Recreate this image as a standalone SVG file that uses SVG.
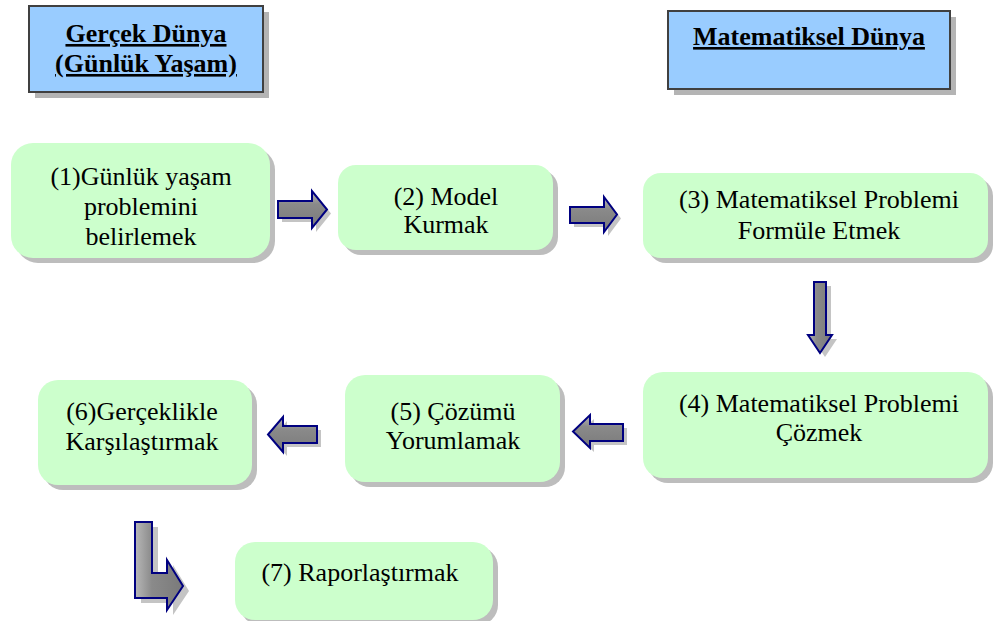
<svg xmlns="http://www.w3.org/2000/svg" width="993" height="621" viewBox="0 0 993 621">
  <style>
    .hdr { fill: #99CCFF; stroke: #404040; stroke-width: 2; }
    .hdr-sh { fill: #b4b4b4; }
    .hdr-t { font-family: "Times New Roman", Times, Tinos, "Liberation Serif", "Nimbus Roman", "Nimbus Roman No9 L", "Noto Serif", FreeSerif, "DejaVu Serif", Georgia, serif; font-weight: bold; font-size: 26px; text-decoration: underline; fill: #000; text-anchor: middle; }
    .node { fill: #CCFFCC; }
    .node-sh { fill: #bdbdbd; }
    .t { font-family: "Times New Roman", Times, Tinos, "Liberation Serif", "Nimbus Roman", "Nimbus Roman No9 L", "Noto Serif", FreeSerif, "DejaVu Serif", Georgia, serif; font-size: 26px; fill: #000; text-anchor: middle; }
    .arr { stroke: #000080; stroke-width: 2; stroke-linejoin: miter; }
    .arr-sh { fill: #c4c4c4; }
  </style>
  <defs>
    <linearGradient id="gH" x1="0" y1="0" x2="0" y2="1">
      <stop offset="0" stop-color="#b8b8b8"/>
      <stop offset="0.35" stop-color="#8a8a8a"/>
      <stop offset="1" stop-color="#7a7a7a"/>
    </linearGradient>
    <linearGradient id="gV" x1="0" y1="0" x2="1" y2="0">
      <stop offset="0" stop-color="#b8b8b8"/>
      <stop offset="0.35" stop-color="#8a8a8a"/>
      <stop offset="1" stop-color="#7a7a7a"/>
    </linearGradient>
  </defs>

  <rect width="993" height="621" fill="#ffffff"/>

  <!-- column headers -->
  <g id="hdr-real">
    <rect class="hdr-sh" x="35" y="12" width="234" height="86"/>
    <rect class="hdr" x="29" y="6" width="234" height="86"/>
    <text class="hdr-t" x="146" y="42">Gerçek Dünya</text>
    <text class="hdr-t" x="146" y="72">(Günlük Yaşam)</text>
  </g>
  <g id="hdr-math">
    <rect class="hdr-sh" x="674" y="17" width="282" height="78"/>
    <rect class="hdr" x="668" y="11" width="282" height="78"/>
    <text class="hdr-t" x="809" y="45">Matematiksel Dünya</text>
  </g>

  <!-- process steps -->
  <g id="n1">
    <rect class="node-sh" x="16" y="148" width="259" height="115" rx="22"/>
    <rect class="node" x="11" y="143" width="259" height="115" rx="22"/>
    <text class="t" x="141" y="185">(1)Günlük yaşam</text>
    <text class="t" x="141" y="215">problemini</text>
    <text class="t" x="141" y="245">belirlemek</text>
  </g>
  <g id="n2">
    <rect class="node-sh" x="343" y="170" width="215" height="85" rx="18"/>
    <rect class="node" x="338" y="165" width="215" height="85" rx="18"/>
    <text class="t" x="446" y="205">(2) Model</text>
    <text class="t" x="446" y="233">Kurmak</text>
  </g>
  <g id="n3">
    <rect class="node-sh" x="648" y="178" width="345" height="85" rx="18"/>
    <rect class="node" x="643" y="173" width="345" height="85" rx="18"/>
    <text class="t" x="819" y="208">(3) Matematiksel Problemi</text>
    <text class="t" x="819" y="239">Formüle Etmek</text>
  </g>
  <g id="n4">
    <rect class="node-sh" x="648" y="377" width="345" height="106" rx="20"/>
    <rect class="node" x="643" y="372" width="345" height="106" rx="20"/>
    <text class="t" x="819" y="412">(4) Matematiksel Problemi</text>
    <text class="t" x="819" y="441">Çözmek</text>
  </g>
  <g id="n5">
    <rect class="node-sh" x="350" y="380" width="215" height="107" rx="20"/>
    <rect class="node" x="345" y="375" width="215" height="107" rx="20"/>
    <text class="t" x="453" y="420">(5) Çözümü</text>
    <text class="t" x="453" y="449">Yorumlamak</text>
  </g>
  <g id="n6">
    <rect class="node-sh" x="43" y="385" width="214" height="105" rx="20"/>
    <rect class="node" x="38" y="380" width="214" height="105" rx="20"/>
    <text class="t" x="142" y="420">(6)Gerçeklikle</text>
    <text class="t" x="142" y="450">Karşılaştırmak</text>
  </g>
  <g id="n7">
    <rect class="node-sh" x="240" y="547" width="258" height="78" rx="20"/>
    <rect class="node" x="235" y="542" width="258" height="78" rx="20"/>
    <text class="t" x="360" y="581">(7) Raporlaştırmak</text>
  </g>

  <!-- block arrows between steps -->
  <g id="connectors">
    <g id="a12">
      <path class="arr-sh" transform="translate(4,4)" d="M278,201 H312 V191 L327,209.5 L312,228 V218 H278 Z"/>
      <path class="arr" fill="url(#gH)" d="M278,201 H312 V191 L327,209.5 L312,228 V218 H278 Z"/>
    </g>
    <g id="a23">
      <path class="arr-sh" transform="translate(4,4)" d="M570,207 H604 V197 L617,214.5 L604,232 V223 H570 Z"/>
      <path class="arr" fill="url(#gH)" d="M570,207 H604 V197 L617,214.5 L604,232 V223 H570 Z"/>
    </g>
    <g id="a34">
      <path class="arr-sh" transform="translate(5,4)" d="M814,282 H826 V335 H832 L820,353 L808,335 H814 Z"/>
      <path class="arr" fill="url(#gV)" d="M814,282 H826 V335 H832 L820,353 L808,335 H814 Z"/>
    </g>
    <g id="a45">
      <path class="arr-sh" transform="translate(4,4)" d="M623,424 H590 V415 L573,431.5 L590,448 V441 H623 Z"/>
      <path class="arr" fill="url(#gH)" d="M623,424 H590 V415 L573,431.5 L590,448 V441 H623 Z"/>
    </g>
    <g id="a56">
      <path class="arr-sh" transform="translate(4,4)" d="M317,426 H283 V417 L268,434.5 L283,452 V443 H317 Z"/>
      <path class="arr" fill="url(#gH)" d="M317,426 H283 V417 L268,434.5 L283,452 V443 H317 Z"/>
    </g>
    <g id="a67">
      <path class="arr-sh" transform="translate(6,5)" d="M135,522 H152 V573 H167 V560 L183,586 L167,610 V598 H135 Z"/>
      <path class="arr" fill="url(#gV)" d="M135,522 H152 V573 H167 V560 L183,586 L167,610 V598 H135 Z"/>
    </g>
  </g>
</svg>
